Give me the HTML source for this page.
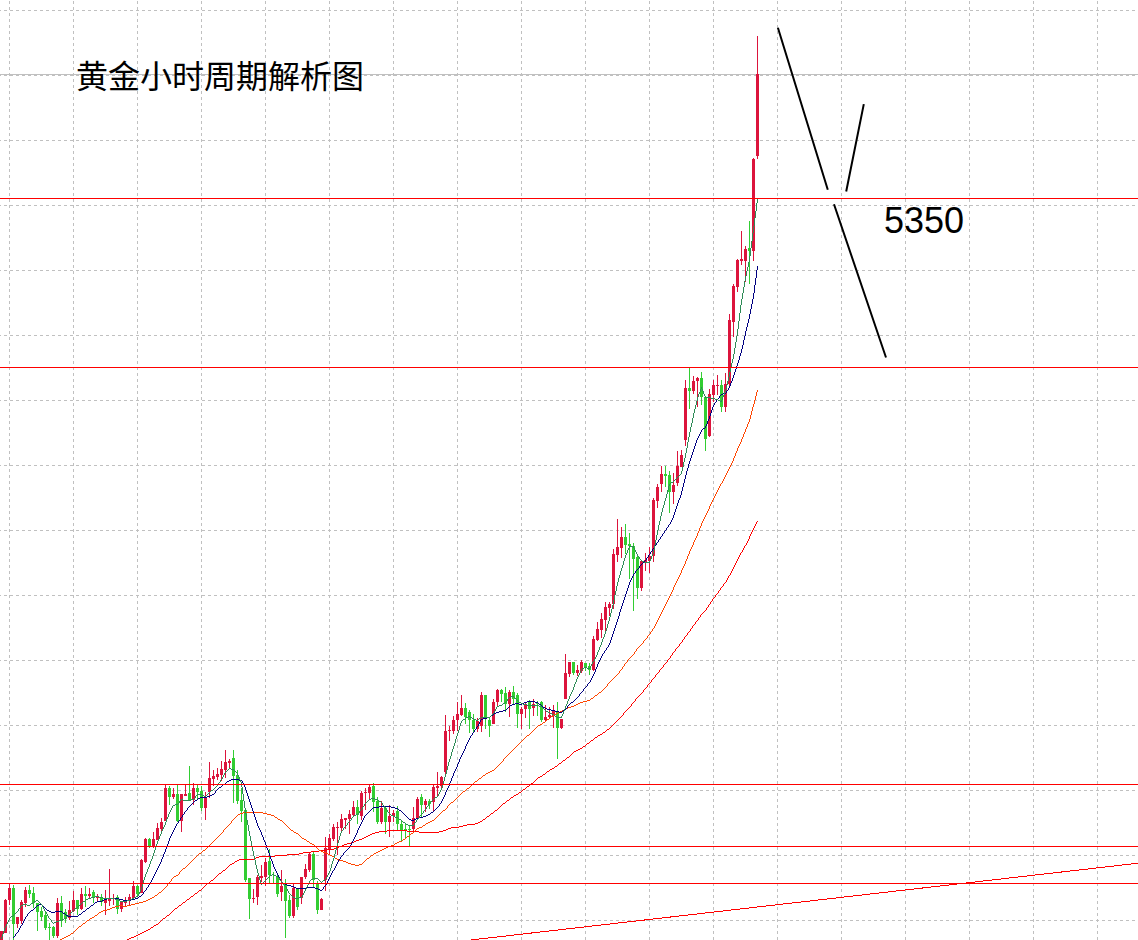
<!DOCTYPE html><html><head><meta charset="utf-8"><title>chart</title><style>html,body{margin:0;padding:0;background:#fff}svg{display:block}text{font-family:"Liberation Sans","Noto Sans CJK SC",sans-serif}</style></head><body>
<svg width="1138" height="940" viewBox="0 0 1138 940">
<rect width="1138" height="940" fill="#fff"/>
<g shape-rendering="crispEdges" stroke="#c0c0c0" stroke-width="1" stroke-dasharray="3 3" fill="none">
<path stroke-dashoffset="2" d="M0 10.5H1138M0 75.5H1138M0 140.5H1138M0 205.5H1138M0 270.5H1138M0 335.5H1138M0 400.5H1138M0 465.5H1138M0 530.5H1138M0 595.5H1138M0 660.5H1138M0 725.5H1138M0 790.5H1138M0 855.5H1138M0 920.5H1138"/>
<path stroke-dashoffset="5" d="M9.5 0V940M73.5 0V940M137.5 0V940M201.5 0V940M265.5 0V940M329.5 0V940M393.5 0V940M457.5 0V940M521.5 0V940M585.5 0V940M649.5 0V940M713.5 0V940M777.5 0V940M841.5 0V940M905.5 0V940M969.5 0V940M1033.5 0V940M1097.5 0V940"/>
</g>
<path shape-rendering="crispEdges" stroke="#c0c0c0" d="M0 74.5H1138"/>
<g shape-rendering="crispEdges">
<path fill="#DC143C" d="M0 931h3v12h-3zM4 900h3v33h-3zM5 899h1v1h-1zM8 888h3v12h-3zM9 884h1v4h-1zM9 900h1v5h-1zM16 917h3v7h-3zM17 924h1v4h-1zM20 902h3v19h-3zM21 900h1v2h-1zM21 921h1v3h-1zM24 890h3v13h-3zM25 887h1v3h-1zM25 903h1v4h-1zM56 903h3v33h-3zM57 898h1v5h-1zM57 936h1v2h-1zM68 910h3v8h-3zM69 901h1v9h-1zM69 918h1v2h-1zM72 900h3v11h-3zM73 891h1v9h-1zM73 911h1v1h-1zM80 894h3v15h-3zM81 888h1v6h-1zM81 909h1v1h-1zM88 894h3v2h-3zM89 888h1v6h-1zM89 896h1v2h-1zM96 896h3v2h-3zM97 894h1v2h-1zM97 898h1v3h-1zM104 899h3v4h-3zM105 890h1v9h-1zM105 903h1v12h-1zM108 899h3v2h-3zM109 869h1v30h-1zM109 901h1v5h-1zM112 898h3v1h-3zM113 894h1v4h-1zM113 899h1v6h-1zM120 902h3v7h-3zM121 901h1v1h-1zM121 909h1v3h-1zM124 900h3v3h-3zM125 897h1v3h-1zM125 903h1v3h-1zM128 897h3v4h-3zM129 894h1v3h-1zM129 901h1v5h-1zM132 886h3v12h-3zM133 881h1v5h-1zM133 898h1v1h-1zM152 839h3v7h-3zM153 832h1v7h-1zM153 846h1v2h-1zM156 828h3v12h-3zM157 823h1v5h-1zM160 822h3v7h-3zM161 818h1v4h-1zM161 829h1v4h-1zM164 788h3v33h-3zM165 785h1v3h-1zM172 794h3v3h-3zM173 788h1v6h-1zM173 797h1v2h-1zM180 794h3v27h-3zM181 821h1v11h-1zM184 794h3v2h-3zM185 785h1v9h-1zM192 788h3v12h-3zM193 783h1v5h-1zM193 800h1v5h-1zM204 797h3v11h-3zM205 792h1v5h-1zM205 808h1v12h-1zM208 778h3v14h-3zM209 762h1v16h-1zM209 792h1v6h-1zM212 776h3v3h-3zM213 770h1v6h-1zM213 779h1v7h-1zM216 774h3v3h-3zM217 768h1v6h-1zM217 777h1v3h-1zM220 769h3v6h-3zM221 761h1v8h-1zM221 775h1v6h-1zM224 762h3v8h-3zM225 750h1v12h-1zM225 770h1v8h-1zM228 761h3v2h-3zM229 759h1v2h-1zM229 763h1v6h-1zM140 860h3v33h-3zM141 859h1v1h-1zM144 839h3v23h-3zM145 838h1v1h-1zM145 862h1v1h-1zM252 898h3v1h-3zM253 889h1v9h-1zM253 899h1v4h-1zM256 877h3v20h-3zM257 875h1v2h-1zM257 897h1v8h-1zM260 876h3v2h-3zM261 865h1v11h-1zM261 878h1v4h-1zM264 862h3v15h-3zM265 858h1v4h-1zM265 877h1v9h-1zM304 869h3v8h-3zM305 864h1v5h-1zM305 877h1v2h-1zM308 854h3v16h-3zM309 852h1v2h-1zM309 870h1v2h-1zM324 848h3v32h-3zM325 837h1v11h-1zM325 880h1v11h-1zM328 838h3v11h-3zM329 834h1v4h-1zM329 849h1v5h-1zM332 827h3v12h-3zM333 824h1v3h-1zM333 839h1v2h-1zM336 827h3v1h-3zM337 822h1v5h-1zM337 828h1v27h-1zM340 819h3v9h-3zM341 814h1v5h-1zM341 828h1v3h-1zM344 818h3v2h-3zM345 820h1v9h-1zM348 814h3v5h-3zM349 810h1v4h-1zM349 819h1v15h-1zM352 807h3v8h-3zM353 801h1v6h-1zM353 815h1v1h-1zM360 793h3v23h-3zM361 791h1v2h-1zM361 816h1v4h-1zM364 792h3v1h-3zM365 788h1v4h-1zM365 793h1v17h-1zM368 787h3v6h-3zM369 784h1v3h-1zM369 793h1v6h-1zM380 808h3v14h-3zM381 801h1v7h-1zM381 822h1v2h-1zM388 816h3v6h-3zM389 805h1v11h-1zM389 822h1v15h-1zM392 813h3v3h-3zM393 810h1v3h-1zM393 816h1v6h-1zM280 886h3v6h-3zM281 870h1v16h-1zM281 892h1v9h-1zM292 888h3v28h-3zM293 884h1v4h-1zM293 916h1v2h-1zM300 877h3v21h-3zM301 898h1v6h-1zM320 899h3v11h-3zM321 898h1v1h-1zM440 777h3v9h-3zM441 776h1v1h-1zM441 786h1v3h-1zM444 731h3v41h-3zM445 715h1v16h-1zM445 772h1v3h-1zM448 730h3v1h-3zM449 726h1v4h-1zM449 731h1v10h-1zM452 720h3v11h-3zM453 716h1v4h-1zM453 731h1v3h-1zM456 714h3v6h-3zM457 702h1v12h-1zM457 720h1v11h-1zM460 708h3v7h-3zM461 695h1v13h-1zM461 715h1v1h-1zM476 721h3v8h-3zM477 718h1v3h-1zM477 729h1v3h-1zM480 695h3v31h-3zM481 692h1v3h-1zM481 726h1v6h-1zM492 702h3v22h-3zM493 699h1v3h-1zM496 690h3v12h-3zM497 689h1v1h-1zM497 702h1v4h-1zM508 692h3v12h-3zM509 690h1v2h-1zM509 704h1v13h-1zM520 709h3v5h-3zM521 707h1v2h-1zM521 714h1v15h-1zM524 704h3v5h-3zM525 702h1v2h-1zM525 709h1v9h-1zM532 704h3v4h-3zM533 699h1v5h-1zM533 708h1v8h-1zM412 818h3v11h-3zM413 807h1v11h-1zM413 829h1v4h-1zM416 799h3v19h-3zM417 797h1v2h-1zM424 801h3v4h-3zM425 799h1v2h-1zM425 805h1v7h-1zM432 787h3v15h-3zM433 785h1v2h-1zM433 802h1v10h-1zM436 786h3v2h-3zM437 772h1v14h-1zM437 788h1v8h-1zM580 662h3v9h-3zM581 660h1v2h-1zM581 671h1v2h-1zM592 639h3v31h-3zM593 636h1v3h-1zM593 670h1v1h-1zM596 629h3v11h-3zM597 622h1v7h-1zM597 640h1v1h-1zM600 619h3v11h-3zM601 613h1v6h-1zM601 630h1v8h-1zM604 607h3v13h-3zM605 602h1v5h-1zM605 620h1v12h-1zM608 604h3v4h-3zM609 602h1v2h-1zM609 608h1v8h-1zM544 717h3v3h-3zM545 705h1v12h-1zM545 720h1v1h-1zM548 715h3v2h-3zM549 707h1v8h-1zM549 717h1v1h-1zM552 711h3v5h-3zM553 705h1v6h-1zM553 716h1v12h-1zM560 719h3v9h-3zM561 728h1v1h-1zM564 673h3v26h-3zM565 654h1v19h-1zM568 662h3v12h-3zM569 674h1v3h-1zM576 670h3v3h-3zM577 665h1v5h-1zM577 673h1v3h-1zM616 547h3v8h-3zM617 519h1v28h-1zM617 555h1v7h-1zM620 537h3v11h-3zM621 527h1v10h-1zM621 548h1v10h-1zM652 500h3v56h-3zM653 498h1v2h-1zM653 556h1v6h-1zM656 487h3v14h-3zM657 484h1v3h-1zM657 501h1v7h-1zM660 474h3v10h-3zM661 466h1v8h-1zM661 484h1v8h-1zM672 485h3v7h-3zM673 473h1v12h-1zM673 492h1v12h-1zM612 554h3v50h-3zM613 549h1v5h-1zM613 604h1v5h-1zM640 561h3v27h-3zM641 560h1v1h-1zM641 588h1v3h-1zM644 560h3v3h-3zM645 553h1v7h-1zM645 563h1v8h-1zM648 556h3v5h-3zM649 547h1v9h-1zM649 561h1v12h-1zM676 466h3v17h-3zM677 451h1v15h-1zM677 483h1v3h-1zM680 455h3v12h-3zM681 450h1v5h-1zM684 388h3v52h-3zM685 380h1v8h-1zM685 440h1v6h-1zM692 381h3v10h-3zM693 376h1v5h-1zM693 391h1v3h-1zM696 378h3v3h-3zM697 377h1v1h-1zM697 381h1v26h-1zM708 394h3v42h-3zM709 389h1v5h-1zM709 436h1v1h-1zM712 385h3v10h-3zM713 380h1v5h-1zM713 395h1v7h-1zM716 385h3v1h-3zM717 375h1v10h-1zM717 386h1v9h-1zM724 384h3v23h-3zM725 373h1v11h-1zM725 407h1v5h-1zM736 260h3v27h-3zM737 259h1v1h-1zM737 287h1v5h-1zM740 259h3v2h-3zM741 231h1v28h-1zM741 261h1v4h-1zM744 249h3v12h-3zM745 246h1v3h-1zM745 261h1v21h-1zM728 320h3v64h-3zM729 314h1v6h-1zM729 384h1v2h-1zM732 286h3v36h-3zM733 284h1v2h-1zM733 322h1v15h-1zM752 159h3v92h-3zM753 158h1v1h-1zM753 251h1v10h-1zM756 74h3v82h-3zM757 36h1v38h-1zM757 156h1v3h-1z"/>
<path fill="#32CD32" d="M12 888h3v36h-3zM13 885h1v3h-1zM13 924h1v19h-1zM28 890h3v4h-3zM29 885h1v5h-1zM29 894h1v4h-1zM32 893h3v10h-3zM33 887h1v6h-1zM33 903h1v5h-1zM36 903h3v9h-3zM37 912h1v19h-1zM40 911h3v6h-3zM41 907h1v4h-1zM41 917h1v4h-1zM44 915h3v13h-3zM45 912h1v3h-1zM45 928h1v2h-1zM48 927h3v1h-3zM49 923h1v4h-1zM49 928h1v15h-1zM52 927h3v9h-3zM53 926h1v1h-1zM53 936h1v2h-1zM60 903h3v18h-3zM61 896h1v7h-1zM61 921h1v6h-1zM64 912h3v7h-3zM65 909h1v3h-1zM65 919h1v4h-1zM76 900h3v9h-3zM77 909h1v6h-1zM84 894h3v2h-3zM85 886h1v8h-1zM85 896h1v11h-1zM92 892h3v6h-3zM93 890h1v2h-1zM93 898h1v5h-1zM100 897h3v5h-3zM101 894h1v3h-1zM101 902h1v4h-1zM116 897h3v12h-3zM117 895h1v2h-1zM117 909h1v5h-1zM136 886h3v8h-3zM137 885h1v1h-1zM137 894h1v2h-1zM148 839h3v7h-3zM149 838h1v1h-1zM149 846h1v2h-1zM168 788h3v9h-3zM169 786h1v2h-1zM169 797h1v8h-1zM176 794h3v27h-3zM177 785h1v9h-1zM177 821h1v1h-1zM188 793h3v7h-3zM189 766h1v27h-1zM196 788h3v4h-3zM197 785h1v3h-1zM197 792h1v7h-1zM200 791h3v17h-3zM201 786h1v5h-1zM201 808h1v3h-1zM232 758h3v18h-3zM233 750h1v8h-1zM233 776h1v27h-1zM236 775h3v26h-3zM237 770h1v5h-1zM237 801h1v3h-1zM240 800h3v11h-3zM241 788h1v12h-1zM241 811h1v11h-1zM244 810h3v70h-3zM245 809h1v1h-1zM245 880h1v2h-1zM248 878h3v21h-3zM249 899h1v20h-1zM268 861h3v14h-3zM269 849h1v12h-1zM269 875h1v8h-1zM273 872h1v6h-1zM273 878h1v5h-1zM312 854h3v26h-3zM313 851h1v3h-1zM313 880h1v7h-1zM356 807h3v8h-3zM357 800h1v7h-1zM357 815h1v9h-1zM372 786h3v16h-3zM373 783h1v3h-1zM373 802h1v10h-1zM376 801h3v21h-3zM377 797h1v4h-1zM377 822h1v2h-1zM384 808h3v14h-3zM385 807h1v1h-1zM385 822h1v12h-1zM396 811h3v13h-3zM397 806h1v5h-1zM397 824h1v6h-1zM400 824h3v6h-3zM401 821h1v3h-1zM401 830h1v11h-1zM404 829h3v1h-3zM405 824h1v5h-1zM405 830h1v8h-1zM408 829h3v1h-3zM409 826h1v3h-1zM409 830h1v16h-1zM276 877h3v17h-3zM277 874h1v3h-1zM277 894h1v3h-1zM284 884h3v17h-3zM285 879h1v5h-1zM285 901h1v37h-1zM288 900h3v16h-3zM289 895h1v5h-1zM289 916h1v2h-1zM296 889h3v18h-3zM297 888h1v1h-1zM297 907h1v3h-1zM316 884h3v26h-3zM317 881h1v3h-1zM317 910h1v4h-1zM464 708h3v9h-3zM465 703h1v5h-1zM465 717h1v7h-1zM468 712h3v8h-3zM469 710h1v2h-1zM469 720h1v13h-1zM472 720h3v9h-3zM473 714h1v6h-1zM473 729h1v3h-1zM484 695h3v24h-3zM485 719h1v10h-1zM488 720h3v6h-3zM489 718h1v2h-1zM489 726h1v11h-1zM500 690h3v4h-3zM501 689h1v1h-1zM501 694h1v8h-1zM504 693h3v11h-3zM505 687h1v6h-1zM505 704h1v8h-1zM512 692h3v7h-3zM513 686h1v6h-1zM513 699h1v5h-1zM516 695h3v19h-3zM517 693h1v2h-1zM517 714h1v14h-1zM528 702h3v7h-3zM529 700h1v2h-1zM529 709h1v20h-1zM536 703h3v1h-3zM537 701h1v2h-1zM537 704h1v12h-1zM420 797h3v8h-3zM421 794h1v3h-1zM421 805h1v13h-1zM428 801h3v3h-3zM429 799h1v2h-1zM429 804h1v5h-1zM584 663h3v5h-3zM585 668h1v3h-1zM588 666h3v4h-3zM589 663h1v3h-1zM589 670h1v5h-1zM540 702h3v18h-3zM541 701h1v1h-1zM541 720h1v2h-1zM556 711h3v17h-3zM557 702h1v9h-1zM557 728h1v31h-1zM572 662h3v11h-3zM573 673h1v2h-1zM624 537h3v8h-3zM625 524h1v13h-1zM625 545h1v9h-1zM664 474h3v2h-3zM665 466h1v8h-1zM665 476h1v11h-1zM668 475h3v17h-3zM669 471h1v4h-1zM669 492h1v21h-1zM628 544h3v2h-3zM629 533h1v11h-1zM629 546h1v33h-1zM632 546h3v13h-3zM633 543h1v3h-1zM633 559h1v52h-1zM636 557h3v31h-3zM637 556h1v1h-1zM637 588h1v11h-1zM688 388h3v3h-3zM689 368h1v20h-1zM689 391h1v18h-1zM700 378h3v19h-3zM701 372h1v6h-1zM701 397h1v8h-1zM704 397h3v42h-3zM705 439h1v12h-1zM720 385h3v22h-3zM721 380h1v5h-1zM721 407h1v5h-1zM748 248h3v3h-3zM749 221h1v27h-1zM749 251h1v33h-1z"/>
</g>
<g shape-rendering="crispEdges">
<path fill="#FF0000" d="M757 521h1v1h-1zM756 522h1v2h-1zM755 524h1v2h-1zM754 526h1v2h-1zM753 528h1v2h-1zM752 530h1v2h-1zM751 532h1v2h-1zM750 534h1v2h-1zM749 536h1v3h-1zM748 539h1v2h-1zM747 541h1v2h-1zM746 543h1v2h-1zM745 545h1v1h-1zM744 546h1v2h-1zM743 548h1v2h-1zM742 550h1v2h-1zM741 552h1v1h-1zM740 553h1v2h-1zM739 555h1v2h-1zM738 557h1v2h-1zM737 559h1v2h-1zM736 561h1v2h-1zM735 563h1v2h-1zM734 565h1v2h-1zM733 567h1v2h-1zM732 569h1v2h-1zM731 571h1v2h-1zM730 573h1v2h-1zM729 575h1v1h-1zM728 576h1v2h-1zM727 578h1v2h-1zM726 580h1v2h-1zM725 582h1v1h-1zM724 583h1v1h-1zM723 584h1v2h-1zM722 586h1v1h-1zM721 587h1v1h-1zM720 588h1v2h-1zM719 590h1v1h-1zM718 591h1v2h-1zM717 593h1v1h-1zM716 594h1v1h-1zM715 595h1v2h-1zM714 597h1v1h-1zM713 598h1v1h-1zM712 599h1v2h-1zM711 601h1v1h-1zM710 602h1v2h-1zM709 604h1v1h-1zM708 605h1v2h-1zM707 607h1v1h-1zM706 608h1v2h-1zM705 610h1v1h-1zM704 611h1v1h-1zM703 612h1v1h-1zM702 613h1v1h-1zM701 614h1v1h-1zM700 615h1v2h-1zM699 617h1v1h-1zM698 618h1v2h-1zM697 620h1v1h-1zM696 621h1v1h-1zM695 622h1v2h-1zM694 624h1v1h-1zM693 625h1v1h-1zM692 626h1v2h-1zM691 628h1v1h-1zM690 629h1v2h-1zM689 631h1v1h-1zM688 632h1v1h-1zM687 633h1v2h-1zM686 635h1v1h-1zM685 636h1v1h-1zM684 637h1v2h-1zM683 639h1v1h-1zM682 640h1v2h-1zM681 642h1v1h-1zM680 643h1v1h-1zM679 644h1v2h-1zM678 646h1v1h-1zM677 647h1v1h-1zM676 648h1v1h-1zM675 649h1v2h-1zM674 651h1v1h-1zM673 652h1v1h-1zM672 653h1v2h-1zM671 655h1v1h-1zM670 656h1v2h-1zM669 658h1v1h-1zM668 659h1v1h-1zM667 660h1v2h-1zM666 662h1v1h-1zM665 663h1v1h-1zM664 664h1v1h-1zM663 665h1v2h-1zM662 667h1v1h-1zM661 668h1v1h-1zM660 669h1v1h-1zM659 670h1v2h-1zM658 672h1v1h-1zM657 673h1v1h-1zM656 674h1v1h-1zM655 675h1v2h-1zM654 677h1v1h-1zM653 678h1v1h-1zM652 679h1v1h-1zM651 680h1v2h-1zM650 682h1v1h-1zM649 683h1v1h-1zM648 684h1v1h-1zM647 685h1v2h-1zM646 687h1v1h-1zM645 688h1v1h-1zM644 689h1v1h-1zM643 690h1v2h-1zM642 692h1v1h-1zM641 693h1v1h-1zM640 694h1v1h-1zM639 695h1v1h-1zM638 696h1v1h-1zM637 697h1v1h-1zM636 698h1v1h-1zM635 699h1v2h-1zM634 701h1v1h-1zM633 702h1v1h-1zM632 703h1v1h-1zM631 704h1v2h-1zM630 706h1v1h-1zM629 707h1v1h-1zM628 708h1v1h-1zM627 709h1v1h-1zM626 710h1v1h-1zM625 711h1v1h-1zM624 712h1v1h-1zM623 713h1v2h-1zM622 715h1v1h-1zM621 716h1v1h-1zM620 717h1v1h-1zM619 718h1v1h-1zM618 719h1v1h-1zM617 720h1v1h-1zM616 721h1v1h-1zM615 722h1v1h-1zM614 723h1v1h-1zM613 724h1v1h-1zM612 725h1v1h-1zM611 726h1v1h-1zM610 727h1v1h-1zM609 728h1v1h-1zM607 729h2v1h-2zM606 730h1v1h-1zM605 731h1v1h-1zM603 732h2v1h-2zM602 733h1v1h-1zM600 734h2v1h-2zM598 735h2v1h-2zM597 736h1v1h-1zM595 737h2v1h-2zM594 738h1v1h-1zM593 739h1v1h-1zM591 740h2v1h-2zM590 741h1v1h-1zM589 742h1v1h-1zM587 743h2v1h-2zM586 744h1v1h-1zM585 745h1v1h-1zM583 746h2v1h-2zM582 747h1v1h-1zM580 748h2v1h-2zM578 749h2v1h-2zM576 750h2v1h-2zM574 751h2v1h-2zM573 752h1v1h-1zM572 753h1v1h-1zM571 754h1v1h-1zM570 755h1v1h-1zM569 756h1v1h-1zM567 757h2v1h-2zM566 758h1v1h-1zM565 759h1v1h-1zM563 760h2v1h-2zM562 761h1v1h-1zM561 762h1v1h-1zM559 763h2v1h-2zM558 764h1v1h-1zM557 765h1v1h-1zM555 766h2v1h-2zM554 767h1v1h-1zM552 768h2v1h-2zM550 769h2v1h-2zM549 770h1v1h-1zM547 771h2v1h-2zM546 772h1v1h-1zM545 773h1v1h-1zM543 774h2v1h-2zM542 775h1v1h-1zM540 776h2v1h-2zM538 777h2v1h-2zM537 778h1v1h-1zM536 779h1v1h-1zM535 780h1v1h-1zM534 781h1v1h-1zM533 782h1v1h-1zM531 783h2v1h-2zM530 784h1v1h-1zM529 785h1v1h-1zM527 786h2v1h-2zM526 787h1v1h-1zM525 788h1v1h-1zM523 789h2v1h-2zM522 790h1v1h-1zM521 791h1v1h-1zM519 792h2v1h-2zM518 793h1v1h-1zM516 794h2v1h-2zM514 795h2v1h-2zM513 796h1v1h-1zM511 797h2v1h-2zM510 798h1v1h-1zM509 799h1v1h-1zM507 800h2v1h-2zM506 801h1v1h-1zM505 802h1v1h-1zM503 803h2v1h-2zM502 804h1v1h-1zM501 805h1v1h-1zM500 806h1v1h-1zM499 807h1v1h-1zM498 808h1v1h-1zM497 809h1v1h-1zM495 810h2v1h-2zM494 811h1v1h-1zM493 812h1v1h-1zM491 813h2v1h-2zM490 814h1v1h-1zM489 815h1v1h-1zM487 816h2v1h-2zM486 817h1v1h-1zM485 818h1v1h-1zM483 819h2v1h-2zM482 820h1v1h-1zM480 821h2v1h-2zM478 822h2v1h-2zM475 823h3v1h-3zM467 824h8v1h-8zM463 825h4v1h-4zM459 826h4v1h-4zM451 827h8v1h-8zM448 828h3v1h-3zM446 829h2v1h-2zM387 830h20v1h-20zM443 830h3v1h-3zM379 831h8v1h-8zM407 831h12v1h-12zM439 831h4v1h-4zM375 832h4v1h-4zM419 832h20v1h-20zM372 833h3v1h-3zM370 834h2v1h-2zM368 835h2v1h-2zM366 836h2v1h-2zM364 837h2v1h-2zM362 838h2v1h-2zM359 839h3v1h-3zM356 840h3v1h-3zM354 841h2v1h-2zM351 842h3v1h-3zM347 843h4v1h-4zM344 844h3v1h-3zM342 845h2v1h-2zM339 846h3v1h-3zM336 847h3v1h-3zM334 848h2v1h-2zM327 849h7v1h-7zM319 850h8v1h-8zM311 851h8v1h-8zM303 852h8v1h-8zM299 853h4v1h-4zM287 854h12v1h-12zM275 855h12v1h-12zM259 856h16v1h-16zM256 857h3v1h-3zM254 858h2v1h-2zM239 859h15v1h-15zM237 860h2v1h-2zM235 861h2v1h-2zM234 862h1v1h-1zM232 863h2v1h-2zM230 864h2v1h-2zM229 865h1v1h-1zM228 866h1v1h-1zM227 867h1v1h-1zM226 868h1v1h-1zM225 869h1v1h-1zM223 870h2v1h-2zM222 871h1v1h-1zM221 872h1v1h-1zM219 873h2v1h-2zM218 874h1v1h-1zM217 875h1v1h-1zM216 876h1v1h-1zM215 877h1v1h-1zM214 878h1v1h-1zM213 879h1v1h-1zM211 880h2v1h-2zM210 881h1v1h-1zM209 882h1v1h-1zM207 883h2v1h-2zM206 884h1v1h-1zM205 885h1v1h-1zM204 886h1v1h-1zM203 887h1v1h-1zM202 888h1v1h-1zM201 889h1v1h-1zM199 890h2v1h-2zM198 891h1v1h-1zM197 892h1v1h-1zM195 893h2v1h-2zM194 894h1v1h-1zM193 895h1v1h-1zM191 896h2v1h-2zM190 897h1v1h-1zM189 898h1v1h-1zM187 899h2v1h-2zM186 900h1v1h-1zM185 901h1v1h-1zM183 902h2v1h-2zM182 903h1v1h-1zM181 904h1v1h-1zM179 905h2v1h-2zM178 906h1v1h-1zM177 907h1v1h-1zM175 908h2v1h-2zM174 909h1v1h-1zM173 910h1v1h-1zM172 911h1v1h-1zM171 912h1v1h-1zM170 913h1v1h-1zM169 914h1v1h-1zM167 915h2v1h-2zM166 916h1v1h-1zM165 917h1v1h-1zM163 918h2v1h-2zM162 919h1v1h-1zM161 920h1v1h-1zM160 921h1v1h-1zM159 922h1v1h-1zM158 923h1v1h-1zM156 924h2v1h-2zM154 925h2v1h-2zM153 926h1v1h-1zM151 927h2v1h-2zM150 928h1v1h-1zM148 929h2v1h-2zM146 930h2v1h-2zM144 931h2v1h-2zM142 932h2v1h-2zM140 933h2v1h-2zM138 934h2v1h-2zM136 935h2v1h-2zM134 936h2v1h-2zM131 937h3v1h-3zM129 938h2v1h-2zM127 939h2v1h-2z"/>
<path fill="#FF4500" d="M757 390h1v2h-1zM756 392h1v4h-1zM755 396h1v4h-1zM754 400h1v4h-1zM753 404h1v3h-1zM752 407h1v4h-1zM751 411h1v4h-1zM750 415h1v4h-1zM749 419h1v3h-1zM748 422h1v2h-1zM747 424h1v3h-1zM746 427h1v2h-1zM745 429h1v3h-1zM744 432h1v2h-1zM743 434h1v3h-1zM742 437h1v2h-1zM741 439h1v3h-1zM740 442h1v2h-1zM739 444h1v2h-1zM738 446h1v2h-1zM737 448h1v3h-1zM736 451h1v2h-1zM735 453h1v3h-1zM734 456h1v2h-1zM733 458h1v3h-1zM732 461h1v2h-1zM731 463h1v2h-1zM730 465h1v2h-1zM729 467h1v2h-1zM728 469h1v2h-1zM727 471h1v2h-1zM726 473h1v2h-1zM725 475h1v2h-1zM724 477h1v2h-1zM723 479h1v2h-1zM722 481h1v2h-1zM721 483h1v1h-1zM720 484h1v2h-1zM719 486h1v2h-1zM718 488h1v2h-1zM717 490h1v2h-1zM716 492h1v2h-1zM715 494h1v2h-1zM714 496h1v2h-1zM713 498h1v2h-1zM712 500h1v2h-1zM711 502h1v2h-1zM710 504h1v2h-1zM709 506h1v3h-1zM708 509h1v2h-1zM707 511h1v2h-1zM706 513h1v2h-1zM705 515h1v2h-1zM704 517h1v2h-1zM703 519h1v2h-1zM702 521h1v2h-1zM701 523h1v3h-1zM700 526h1v2h-1zM699 528h1v3h-1zM698 531h1v2h-1zM697 533h1v3h-1zM696 536h1v2h-1zM695 538h1v2h-1zM694 540h1v2h-1zM693 542h1v3h-1zM692 545h1v2h-1zM691 547h1v2h-1zM690 549h1v2h-1zM689 551h1v3h-1zM688 554h1v2h-1zM687 556h1v3h-1zM686 559h1v2h-1zM685 561h1v3h-1zM684 564h1v2h-1zM683 566h1v2h-1zM682 568h1v2h-1zM681 570h1v3h-1zM680 573h1v2h-1zM679 575h1v2h-1zM678 577h1v2h-1zM677 579h1v2h-1zM676 581h1v2h-1zM675 583h1v2h-1zM674 585h1v2h-1zM673 587h1v3h-1zM672 590h1v2h-1zM671 592h1v2h-1zM670 594h1v2h-1zM669 596h1v2h-1zM668 598h1v2h-1zM667 600h1v2h-1zM666 602h1v2h-1zM665 604h1v2h-1zM664 606h1v2h-1zM663 608h1v2h-1zM662 610h1v2h-1zM661 612h1v2h-1zM660 614h1v2h-1zM659 616h1v2h-1zM658 618h1v2h-1zM657 620h1v2h-1zM656 622h1v2h-1zM655 624h1v2h-1zM654 626h1v2h-1zM653 628h1v1h-1zM652 629h1v2h-1zM651 631h1v1h-1zM650 632h1v2h-1zM649 634h1v1h-1zM648 635h1v1h-1zM647 636h1v2h-1zM646 638h1v1h-1zM645 639h1v1h-1zM644 640h1v1h-1zM643 641h1v2h-1zM642 643h1v1h-1zM641 644h1v1h-1zM640 645h1v1h-1zM639 646h1v1h-1zM638 647h1v1h-1zM637 648h1v1h-1zM636 649h1v2h-1zM635 651h1v1h-1zM634 652h1v2h-1zM633 654h1v1h-1zM632 655h1v1h-1zM631 656h1v1h-1zM630 657h1v1h-1zM629 658h1v1h-1zM628 659h1v1h-1zM627 660h1v2h-1zM626 662h1v1h-1zM625 663h1v1h-1zM624 664h1v2h-1zM623 666h1v1h-1zM622 667h1v2h-1zM621 669h1v1h-1zM620 670h1v1h-1zM619 671h1v2h-1zM618 673h1v1h-1zM617 674h1v1h-1zM616 675h1v1h-1zM615 676h1v1h-1zM614 677h1v1h-1zM613 678h1v1h-1zM612 679h1v1h-1zM611 680h1v1h-1zM610 681h1v1h-1zM609 682h1v1h-1zM608 683h1v1h-1zM607 684h1v2h-1zM606 686h1v1h-1zM605 687h1v1h-1zM604 688h1v1h-1zM603 689h1v1h-1zM602 690h1v1h-1zM601 691h1v1h-1zM599 692h2v1h-2zM598 693h1v1h-1zM597 694h1v1h-1zM595 695h2v1h-2zM594 696h1v1h-1zM593 697h1v1h-1zM591 698h2v1h-2zM590 699h1v1h-1zM587 700h3v1h-3zM583 701h4v1h-4zM580 702h3v1h-3zM578 703h2v1h-2zM576 704h2v1h-2zM574 705h2v1h-2zM571 706h3v1h-3zM568 707h3v1h-3zM566 708h2v1h-2zM564 709h2v1h-2zM562 710h2v1h-2zM560 711h2v1h-2zM558 712h2v1h-2zM556 713h2v1h-2zM554 714h2v1h-2zM553 715h1v1h-1zM551 716h2v1h-2zM550 717h1v1h-1zM549 718h1v1h-1zM547 719h2v1h-2zM546 720h1v1h-1zM545 721h1v1h-1zM543 722h2v1h-2zM542 723h1v1h-1zM540 724h2v1h-2zM538 725h2v1h-2zM537 726h1v1h-1zM536 727h1v1h-1zM535 728h1v1h-1zM534 729h1v1h-1zM533 730h1v1h-1zM532 731h1v1h-1zM531 732h1v1h-1zM530 733h1v1h-1zM529 734h1v1h-1zM527 735h2v1h-2zM526 736h1v1h-1zM525 737h1v1h-1zM524 738h1v1h-1zM523 739h1v1h-1zM522 740h1v1h-1zM521 741h1v1h-1zM520 742h1v1h-1zM519 743h1v1h-1zM518 744h1v1h-1zM517 745h1v1h-1zM516 746h1v1h-1zM515 747h1v1h-1zM514 748h1v1h-1zM513 749h1v1h-1zM512 750h1v1h-1zM511 751h1v1h-1zM510 752h1v1h-1zM509 753h1v1h-1zM508 754h1v1h-1zM507 755h1v1h-1zM506 756h1v1h-1zM505 757h1v1h-1zM504 758h1v1h-1zM503 759h1v2h-1zM502 761h1v1h-1zM501 762h1v1h-1zM500 763h1v1h-1zM499 764h1v1h-1zM498 765h1v1h-1zM497 766h1v1h-1zM496 767h1v1h-1zM495 768h1v1h-1zM494 769h1v1h-1zM492 770h2v1h-2zM490 771h2v1h-2zM488 772h2v1h-2zM486 773h2v1h-2zM485 774h1v1h-1zM483 775h2v1h-2zM482 776h1v1h-1zM481 777h1v1h-1zM479 778h2v1h-2zM478 779h1v1h-1zM477 780h1v1h-1zM475 781h2v1h-2zM474 782h1v1h-1zM473 783h1v1h-1zM472 784h1v1h-1zM471 785h1v1h-1zM470 786h1v1h-1zM469 787h1v1h-1zM467 788h2v1h-2zM466 789h1v1h-1zM465 790h1v1h-1zM463 791h2v1h-2zM462 792h1v1h-1zM461 793h1v1h-1zM460 794h1v1h-1zM459 795h1v1h-1zM458 796h1v1h-1zM457 797h1v1h-1zM456 798h1v1h-1zM455 799h1v1h-1zM454 800h1v1h-1zM453 801h1v1h-1zM451 802h2v1h-2zM450 803h1v1h-1zM449 804h1v1h-1zM448 805h1v1h-1zM447 806h1v2h-1zM446 808h1v1h-1zM445 809h1v1h-1zM443 810h2v1h-2zM442 811h1v1h-1zM243 812h20v1h-20zM441 812h1v1h-1zM240 813h3v1h-3zM263 813h4v1h-4zM440 813h1v1h-1zM238 814h2v1h-2zM267 814h4v1h-4zM439 814h1v1h-1zM237 815h1v1h-1zM271 815h3v1h-3zM438 815h1v1h-1zM236 816h1v1h-1zM274 816h1v1h-1zM437 816h1v1h-1zM235 817h1v1h-1zM275 817h2v1h-2zM436 817h1v1h-1zM234 818h1v1h-1zM277 818h1v1h-1zM435 818h1v1h-1zM233 819h1v1h-1zM278 819h2v1h-2zM434 819h1v1h-1zM232 820h1v1h-1zM280 820h2v1h-2zM432 820h2v1h-2zM282 821h1v1h-1zM430 821h2v1h-2zM231 821h1v2h-1zM283 822h1v1h-1zM428 822h2v1h-2zM230 823h1v1h-1zM284 823h1v1h-1zM426 823h2v1h-2zM229 824h1v1h-1zM285 824h1v1h-1zM425 824h1v1h-1zM228 825h1v1h-1zM286 825h1v1h-1zM423 825h2v1h-2zM227 826h1v1h-1zM287 826h1v1h-1zM422 826h1v1h-1zM226 827h1v1h-1zM288 827h1v1h-1zM419 827h3v1h-3zM225 828h1v1h-1zM289 828h1v1h-1zM417 828h2v1h-2zM224 829h1v1h-1zM290 829h1v1h-1zM416 829h1v1h-1zM291 830h2v1h-2zM415 830h1v1h-1zM223 830h1v2h-1zM293 831h1v1h-1zM414 831h1v1h-1zM222 832h1v1h-1zM294 832h2v1h-2zM413 832h1v1h-1zM221 833h1v1h-1zM296 833h2v1h-2zM411 833h2v1h-2zM220 834h1v1h-1zM298 834h1v1h-1zM410 834h1v1h-1zM219 835h1v1h-1zM299 835h1v1h-1zM409 835h1v1h-1zM218 836h1v1h-1zM300 836h1v1h-1zM407 836h2v1h-2zM217 837h1v1h-1zM301 837h1v1h-1zM406 837h1v1h-1zM216 838h1v1h-1zM302 838h2v1h-2zM405 838h1v1h-1zM215 839h1v1h-1zM304 839h2v1h-2zM403 839h2v1h-2zM214 840h1v1h-1zM306 840h1v1h-1zM402 840h1v1h-1zM213 841h1v1h-1zM307 841h2v1h-2zM399 841h3v1h-3zM212 842h1v1h-1zM309 842h1v1h-1zM397 842h2v1h-2zM211 843h1v1h-1zM310 843h2v1h-2zM395 843h2v1h-2zM210 844h1v1h-1zM312 844h2v1h-2zM394 844h1v1h-1zM209 845h1v1h-1zM314 845h1v1h-1zM391 845h3v1h-3zM208 846h1v1h-1zM315 846h1v1h-1zM388 846h3v1h-3zM207 847h1v1h-1zM316 847h1v1h-1zM386 847h2v1h-2zM206 848h1v1h-1zM317 848h1v1h-1zM384 848h2v1h-2zM205 849h1v1h-1zM318 849h1v1h-1zM382 849h2v1h-2zM203 850h2v1h-2zM319 850h2v1h-2zM380 850h2v1h-2zM202 851h1v1h-1zM321 851h2v1h-2zM378 851h2v1h-2zM201 852h1v1h-1zM323 852h3v1h-3zM376 852h2v1h-2zM199 853h2v1h-2zM326 853h2v1h-2zM374 853h2v1h-2zM198 854h1v1h-1zM328 854h2v1h-2zM373 854h1v1h-1zM197 855h1v1h-1zM330 855h2v1h-2zM371 855h2v1h-2zM196 856h1v1h-1zM332 856h2v1h-2zM370 856h1v1h-1zM195 857h1v1h-1zM334 857h1v1h-1zM369 857h1v1h-1zM194 858h1v1h-1zM335 858h2v1h-2zM367 858h2v1h-2zM193 859h1v1h-1zM337 859h2v1h-2zM366 859h1v1h-1zM192 860h1v1h-1zM339 860h4v1h-4zM365 860h1v1h-1zM191 861h1v1h-1zM343 861h3v1h-3zM364 861h1v1h-1zM190 862h1v1h-1zM346 862h2v1h-2zM363 862h1v1h-1zM189 863h1v1h-1zM348 863h3v1h-3zM362 863h1v1h-1zM188 864h1v1h-1zM351 864h4v1h-4zM359 864h3v1h-3zM187 865h1v1h-1zM355 865h4v1h-4zM186 866h1v1h-1zM185 867h1v1h-1zM183 868h2v1h-2zM182 869h1v1h-1zM181 870h1v1h-1zM180 871h1v1h-1zM179 872h1v2h-1zM178 874h1v1h-1zM176 875h2v1h-2zM174 876h2v1h-2zM173 877h1v1h-1zM172 878h1v1h-1zM171 879h1v2h-1zM170 881h1v1h-1zM169 882h1v1h-1zM168 883h1v1h-1zM167 884h1v2h-1zM166 886h1v1h-1zM165 887h1v1h-1zM164 888h1v1h-1zM163 889h1v1h-1zM162 890h1v1h-1zM161 891h1v1h-1zM159 892h2v1h-2zM158 893h1v1h-1zM157 894h1v1h-1zM155 895h2v1h-2zM154 896h1v1h-1zM152 897h2v1h-2zM150 898h2v1h-2zM148 899h2v1h-2zM146 900h2v1h-2zM143 901h3v1h-3zM139 902h4v1h-4zM135 903h4v1h-4zM131 904h4v1h-4zM119 905h4v1h-4zM127 905h4v1h-4zM115 906h4v1h-4zM123 906h4v1h-4zM112 907h3v1h-3zM110 908h2v1h-2zM107 909h3v1h-3zM103 910h4v1h-4zM101 911h2v1h-2zM99 912h2v1h-2zM98 913h1v1h-1zM97 914h1v1h-1zM95 915h2v1h-2zM94 916h1v1h-1zM92 917h2v1h-2zM90 918h2v1h-2zM89 919h1v1h-1zM87 920h2v1h-2zM86 921h1v1h-1zM85 922h1v1h-1zM83 923h2v1h-2zM82 924h1v1h-1zM81 925h1v1h-1zM79 926h2v1h-2zM78 927h1v1h-1zM77 928h1v1h-1zM76 929h1v1h-1zM75 930h1v1h-1zM74 931h1v1h-1zM73 932h1v1h-1zM71 933h2v1h-2zM70 934h1v1h-1zM68 935h2v1h-2zM66 936h2v1h-2zM64 937h2v1h-2zM62 938h2v1h-2zM60 939h2v1h-2z"/>
<path fill="#000080" d="M757 266h1v4h-1zM756 270h1v8h-1zM755 278h1v7h-1zM754 285h1v8h-1zM753 293h1v6h-1zM752 299h1v5h-1zM751 304h1v5h-1zM750 309h1v5h-1zM749 314h1v5h-1zM748 319h1v4h-1zM747 323h1v4h-1zM746 327h1v4h-1zM745 331h1v5h-1zM744 336h1v4h-1zM743 340h1v5h-1zM742 345h1v4h-1zM741 349h1v4h-1zM740 353h1v3h-1zM739 356h1v4h-1zM738 360h1v3h-1zM737 363h1v3h-1zM736 366h1v3h-1zM735 369h1v3h-1zM734 372h1v3h-1zM733 375h1v3h-1zM732 378h1v3h-1zM731 381h1v2h-1zM730 383h1v3h-1zM729 386h1v2h-1zM728 388h1v2h-1zM727 390h1v1h-1zM726 391h1v2h-1zM723 393h3v1h-3zM721 394h2v1h-2zM720 395h1v1h-1zM719 396h1v2h-1zM718 398h1v1h-1zM717 399h1v1h-1zM716 400h1v2h-1zM715 402h1v1h-1zM714 403h1v2h-1zM713 405h1v2h-1zM712 407h1v3h-1zM711 410h1v3h-1zM710 413h1v3h-1zM709 416h1v3h-1zM708 419h1v2h-1zM707 421h1v3h-1zM706 424h1v2h-1zM705 426h1v2h-1zM703 428h2v1h-2zM702 429h1v1h-1zM701 430h1v2h-1zM700 432h1v2h-1zM699 434h1v2h-1zM698 436h1v2h-1zM697 438h1v2h-1zM696 440h1v3h-1zM695 443h1v3h-1zM694 446h1v3h-1zM693 449h1v3h-1zM692 452h1v3h-1zM691 455h1v3h-1zM690 458h1v3h-1zM689 461h1v3h-1zM688 464h1v4h-1zM687 468h1v3h-1zM686 471h1v4h-1zM685 475h1v4h-1zM684 479h1v4h-1zM683 483h1v4h-1zM682 487h1v4h-1zM681 491h1v4h-1zM680 495h1v3h-1zM679 498h1v2h-1zM678 500h1v3h-1zM677 503h1v3h-1zM676 506h1v3h-1zM675 509h1v3h-1zM674 512h1v3h-1zM673 515h1v3h-1zM672 518h1v2h-1zM671 520h1v2h-1zM670 522h1v2h-1zM669 524h1v1h-1zM668 525h1v2h-1zM667 527h1v1h-1zM666 528h1v2h-1zM665 530h1v1h-1zM664 531h1v2h-1zM663 533h1v1h-1zM662 534h1v2h-1zM661 536h1v1h-1zM660 537h1v2h-1zM659 539h1v1h-1zM658 540h1v2h-1zM657 542h1v1h-1zM656 543h1v2h-1zM655 545h1v1h-1zM654 546h1v2h-1zM653 548h1v1h-1zM652 549h1v2h-1zM651 551h1v1h-1zM650 552h1v2h-1zM649 554h1v1h-1zM648 555h1v2h-1zM647 557h1v1h-1zM646 558h1v2h-1zM645 560h1v1h-1zM644 561h1v1h-1zM643 562h1v1h-1zM642 563h1v1h-1zM641 564h1v1h-1zM640 565h1v1h-1zM639 566h1v2h-1zM638 568h1v1h-1zM637 569h1v1h-1zM636 570h1v1h-1zM635 571h1v2h-1zM634 573h1v1h-1zM633 574h1v2h-1zM632 576h1v2h-1zM631 578h1v2h-1zM630 580h1v2h-1zM629 582h1v3h-1zM628 585h1v3h-1zM627 588h1v3h-1zM626 591h1v3h-1zM625 594h1v3h-1zM624 597h1v3h-1zM623 600h1v3h-1zM622 603h1v3h-1zM621 606h1v3h-1zM620 609h1v3h-1zM619 612h1v4h-1zM618 616h1v3h-1zM617 619h1v3h-1zM616 622h1v3h-1zM615 625h1v3h-1zM614 628h1v3h-1zM613 631h1v3h-1zM612 634h1v3h-1zM611 637h1v3h-1zM610 640h1v3h-1zM609 643h1v2h-1zM608 645h1v2h-1zM607 647h1v1h-1zM606 648h1v2h-1zM605 650h1v1h-1zM604 651h1v2h-1zM603 653h1v1h-1zM602 654h1v2h-1zM601 656h1v2h-1zM600 658h1v2h-1zM599 660h1v2h-1zM598 662h1v2h-1zM597 664h1v3h-1zM596 667h1v2h-1zM595 669h1v3h-1zM594 672h1v2h-1zM593 674h1v2h-1zM592 676h1v2h-1zM591 678h1v2h-1zM590 680h1v2h-1zM589 682h1v1h-1zM588 683h1v1h-1zM587 684h1v2h-1zM586 686h1v1h-1zM585 687h1v1h-1zM584 688h1v1h-1zM583 689h1v2h-1zM582 691h1v1h-1zM581 692h1v1h-1zM580 693h1v1h-1zM579 694h1v2h-1zM578 696h1v1h-1zM577 697h1v1h-1zM576 698h1v1h-1zM575 699h1v1h-1zM574 700h1v1h-1zM527 701h8v1h-8zM573 701h1v1h-1zM524 702h3v1h-3zM535 702h3v1h-3zM571 702h2v1h-2zM515 703h4v1h-4zM522 703h2v1h-2zM538 703h1v1h-1zM570 703h1v1h-1zM512 704h3v1h-3zM519 704h3v1h-3zM539 704h2v1h-2zM569 704h1v1h-1zM510 705h2v1h-2zM541 705h1v1h-1zM568 705h1v1h-1zM509 706h1v1h-1zM542 706h1v1h-1zM567 706h1v2h-1zM508 707h1v1h-1zM543 707h2v1h-2zM507 708h1v1h-1zM545 708h2v1h-2zM566 708h1v1h-1zM506 709h1v1h-1zM547 709h4v1h-4zM565 709h1v1h-1zM503 710h3v1h-3zM551 710h4v1h-4zM563 710h2v1h-2zM499 711h4v1h-4zM555 711h4v1h-4zM562 711h1v1h-1zM496 712h3v1h-3zM559 712h3v1h-3zM494 713h2v1h-2zM493 714h1v1h-1zM491 715h2v1h-2zM490 716h1v1h-1zM487 717h3v1h-3zM483 718h4v1h-4zM481 719h2v1h-2zM480 720h1v2h-1zM479 722h1v2h-1zM478 724h1v2h-1zM477 726h1v1h-1zM476 727h1v2h-1zM475 729h1v1h-1zM474 730h1v2h-1zM473 732h1v1h-1zM472 733h1v2h-1zM471 735h1v1h-1zM470 736h1v2h-1zM469 738h1v2h-1zM468 740h1v2h-1zM467 742h1v2h-1zM466 744h1v2h-1zM465 746h1v3h-1zM464 749h1v2h-1zM463 751h1v2h-1zM462 753h1v2h-1zM461 755h1v2h-1zM460 757h1v2h-1zM459 759h1v3h-1zM458 762h1v2h-1zM457 764h1v3h-1zM456 767h1v2h-1zM455 769h1v2h-1zM454 771h1v2h-1zM453 773h1v3h-1zM452 776h1v2h-1zM451 778h1v3h-1zM231 779h8v1h-8zM229 780h2v1h-2zM239 780h3v1h-3zM227 781h2v1h-2zM242 781h1v2h-1zM450 781h1v2h-1zM226 782h1v1h-1zM225 783h1v1h-1zM243 783h1v2h-1zM449 783h1v3h-1zM223 784h2v1h-2zM222 785h1v1h-1zM244 785h1v2h-1zM221 786h1v1h-1zM448 786h1v2h-1zM219 787h2v1h-2zM245 787h1v3h-1zM218 788h1v1h-1zM447 788h1v2h-1zM217 789h1v1h-1zM216 790h1v1h-1zM446 790h1v2h-1zM246 790h1v3h-1zM215 791h1v2h-1zM445 792h1v3h-1zM214 793h1v1h-1zM247 793h1v3h-1zM212 794h2v1h-2zM210 795h2v1h-2zM444 795h1v2h-1zM207 796h3v1h-3zM248 796h1v3h-1zM200 797h7v1h-7zM443 797h1v2h-1zM198 798h2v1h-2zM197 799h1v1h-1zM442 799h1v2h-1zM249 799h1v3h-1zM195 800h2v1h-2zM194 801h1v1h-1zM441 801h1v2h-1zM193 802h1v1h-1zM250 802h1v3h-1zM192 803h1v1h-1zM440 803h1v1h-1zM191 804h1v1h-1zM439 804h1v2h-1zM190 805h1v1h-1zM251 805h1v3h-1zM189 806h1v1h-1zM379 806h12v1h-12zM438 806h1v1h-1zM188 807h1v1h-1zM373 807h6v1h-6zM391 807h4v1h-4zM437 807h1v1h-1zM372 808h1v1h-1zM395 808h3v1h-3zM436 808h1v1h-1zM187 808h1v2h-1zM252 808h1v3h-1zM371 809h1v1h-1zM398 809h1v1h-1zM435 809h1v1h-1zM186 810h1v1h-1zM370 810h1v1h-1zM399 810h2v1h-2zM434 810h1v1h-1zM185 811h1v1h-1zM369 811h1v1h-1zM401 811h1v1h-1zM433 811h1v1h-1zM253 811h1v3h-1zM368 812h1v1h-1zM402 812h1v1h-1zM431 812h2v1h-2zM184 812h1v2h-1zM367 813h1v1h-1zM403 813h1v1h-1zM430 813h1v1h-1zM183 814h1v1h-1zM366 814h1v1h-1zM404 814h1v1h-1zM428 814h2v1h-2zM254 814h1v3h-1zM365 815h1v1h-1zM405 815h1v1h-1zM426 815h2v1h-2zM182 815h1v2h-1zM406 816h1v1h-1zM423 816h3v1h-3zM364 816h1v2h-1zM181 817h1v1h-1zM407 817h1v1h-1zM419 817h4v1h-4zM255 817h1v3h-1zM408 818h1v1h-1zM416 818h3v1h-3zM180 818h1v2h-1zM363 818h1v2h-1zM409 819h2v1h-2zM414 819h2v1h-2zM179 820h1v1h-1zM411 820h3v1h-3zM362 820h1v2h-1zM256 820h1v3h-1zM178 821h1v2h-1zM361 822h1v2h-1zM177 823h1v1h-1zM257 823h1v3h-1zM176 824h1v2h-1zM360 824h1v2h-1zM175 826h1v2h-1zM258 826h1v2h-1zM359 826h1v2h-1zM174 828h1v2h-1zM259 828h1v2h-1zM358 828h1v2h-1zM173 830h1v2h-1zM260 830h1v2h-1zM357 830h1v3h-1zM172 832h1v2h-1zM261 832h1v3h-1zM356 833h1v2h-1zM171 834h1v2h-1zM262 835h1v2h-1zM355 835h1v2h-1zM170 836h1v2h-1zM354 837h1v2h-1zM263 837h1v3h-1zM169 838h1v3h-1zM353 839h1v2h-1zM264 840h1v2h-1zM352 841h1v2h-1zM168 841h1v3h-1zM265 842h1v3h-1zM351 843h1v2h-1zM167 844h1v2h-1zM350 845h1v2h-1zM266 845h1v3h-1zM166 846h1v3h-1zM349 847h1v1h-1zM348 848h1v1h-1zM267 848h1v2h-1zM347 849h1v1h-1zM165 849h1v3h-1zM346 850h1v1h-1zM268 850h1v3h-1zM345 851h1v1h-1zM344 852h1v1h-1zM164 852h1v2h-1zM343 853h1v2h-1zM269 853h1v3h-1zM163 854h1v3h-1zM342 855h1v1h-1zM341 856h1v1h-1zM270 856h1v3h-1zM162 857h1v2h-1zM340 857h1v2h-1zM339 859h1v1h-1zM271 859h1v2h-1zM161 859h1v3h-1zM338 860h1v2h-1zM272 861h1v3h-1zM160 862h1v2h-1zM337 862h1v2h-1zM159 864h1v2h-1zM336 864h1v2h-1zM273 864h1v3h-1zM158 866h1v2h-1zM335 866h1v2h-1zM274 867h1v2h-1zM157 868h1v2h-1zM334 868h1v2h-1zM275 869h1v2h-1zM333 870h1v1h-1zM156 870h1v2h-1zM276 871h1v2h-1zM332 871h1v2h-1zM155 872h1v2h-1zM277 873h1v2h-1zM331 873h1v2h-1zM154 874h1v2h-1zM278 875h1v2h-1zM330 875h1v2h-1zM153 876h1v2h-1zM279 877h1v2h-1zM329 877h1v2h-1zM152 878h1v2h-1zM280 879h1v2h-1zM328 879h1v2h-1zM151 880h1v2h-1zM281 881h1v1h-1zM327 881h1v2h-1zM282 882h1v1h-1zM150 882h1v2h-1zM283 883h2v1h-2zM326 883h1v2h-1zM149 884h1v1h-1zM285 884h2v1h-2zM287 885h4v1h-4zM325 885h1v1h-1zM148 885h1v2h-1zM291 886h3v1h-3zM324 886h1v1h-1zM147 887h1v1h-1zM294 887h2v1h-2zM307 887h8v1h-8zM323 887h1v2h-1zM296 888h11v1h-11zM315 888h3v1h-3zM146 888h1v2h-1zM318 889h2v1h-2zM322 889h1v1h-1zM145 890h1v1h-1zM320 890h2v1h-2zM144 891h1v1h-1zM143 892h1v2h-1zM142 894h1v1h-1zM141 895h1v1h-1zM139 896h2v1h-2zM138 897h1v1h-1zM107 898h12v1h-12zM135 898h3v1h-3zM104 899h3v1h-3zM119 899h4v1h-4zM131 899h4v1h-4zM102 900h2v1h-2zM123 900h8v1h-8zM97 901h5v1h-5zM95 902h2v1h-2zM94 903h1v1h-1zM39 904h3v1h-3zM93 904h1v1h-1zM37 905h2v1h-2zM42 905h1v1h-1zM91 905h2v1h-2zM36 906h1v1h-1zM43 906h1v1h-1zM90 906h1v1h-1zM35 907h1v1h-1zM44 907h1v1h-1zM89 907h1v1h-1zM34 908h1v1h-1zM45 908h1v1h-1zM87 908h2v1h-2zM33 909h1v1h-1zM46 909h1v1h-1zM86 909h1v1h-1zM31 910h2v1h-2zM47 910h2v1h-2zM85 910h1v1h-1zM30 911h1v1h-1zM49 911h2v1h-2zM55 911h7v1h-7zM83 911h2v1h-2zM29 912h1v1h-1zM51 912h4v1h-4zM62 912h1v1h-1zM82 912h1v1h-1zM28 913h1v1h-1zM63 913h2v1h-2zM81 913h1v1h-1zM65 914h1v1h-1zM79 914h2v1h-2zM27 914h1v2h-1zM66 915h2v1h-2zM78 915h1v1h-1zM26 916h1v1h-1zM68 916h10v1h-10zM25 917h1v2h-1zM24 919h1v2h-1zM23 921h1v2h-1zM22 923h1v2h-1zM21 925h1v1h-1zM20 926h1v2h-1zM19 928h1v2h-1zM18 930h1v2h-1zM17 932h1v1h-1zM16 933h1v1h-1zM15 934h1v2h-1zM14 936h1v1h-1zM13 937h1v1h-1z"/>
<path fill="#2E8B57" d="M757 199h1v4h-1zM756 203h1v8h-1zM755 211h1v7h-1zM754 218h1v8h-1zM753 226h1v7h-1zM752 233h1v8h-1zM751 241h1v7h-1zM750 248h1v8h-1zM749 256h1v6h-1zM748 262h1v5h-1zM747 267h1v4h-1zM746 271h1v5h-1zM745 276h1v5h-1zM744 281h1v6h-1zM743 287h1v6h-1zM742 293h1v6h-1zM741 299h1v6h-1zM740 305h1v8h-1zM739 313h1v8h-1zM738 321h1v8h-1zM737 329h1v7h-1zM736 336h1v6h-1zM735 342h1v6h-1zM734 348h1v6h-1zM733 354h1v5h-1zM732 359h1v4h-1zM731 363h1v5h-1zM730 368h1v4h-1zM729 372h1v5h-1zM728 377h1v4h-1zM727 381h1v4h-1zM726 385h1v4h-1zM701 387h1v2h-1zM702 389h1v2h-1zM700 389h1v3h-1zM725 389h1v3h-1zM703 391h1v3h-1zM699 392h1v2h-1zM724 392h1v3h-1zM704 394h1v2h-1zM698 394h1v3h-1zM723 395h1v2h-1zM705 396h1v2h-1zM706 397h5v1h-5zM722 397h1v3h-1zM697 397h1v4h-1zM711 398h4v1h-4zM715 399h3v1h-3zM718 400h2v1h-2zM721 400h1v2h-1zM720 401h1v1h-1zM696 401h1v4h-1zM695 405h1v4h-1zM694 409h1v4h-1zM693 413h1v5h-1zM692 418h1v5h-1zM691 423h1v4h-1zM690 427h1v5h-1zM689 432h1v5h-1zM688 437h1v5h-1zM687 442h1v6h-1zM686 448h1v5h-1zM685 453h1v5h-1zM684 458h1v4h-1zM683 462h1v5h-1zM682 467h1v4h-1zM681 471h1v3h-1zM680 474h1v1h-1zM679 475h1v1h-1zM678 476h1v1h-1zM677 477h1v1h-1zM676 478h1v1h-1zM675 479h1v1h-1zM674 480h1v1h-1zM673 481h1v1h-1zM671 482h2v1h-2zM670 483h1v1h-1zM669 484h1v2h-1zM668 486h1v4h-1zM667 490h1v4h-1zM666 494h1v4h-1zM665 498h1v3h-1zM664 501h1v4h-1zM663 505h1v3h-1zM662 508h1v4h-1zM661 512h1v4h-1zM660 516h1v5h-1zM659 521h1v4h-1zM658 525h1v5h-1zM657 530h1v5h-1zM656 535h1v5h-1zM655 540h1v5h-1zM654 545h1v5h-1zM630 546h3v1h-3zM629 546h1v2h-1zM633 546h1v2h-1zM628 548h1v2h-1zM634 548h1v2h-1zM635 550h1v2h-1zM627 550h1v3h-1zM653 550h1v4h-1zM636 552h1v2h-1zM626 553h1v2h-1zM637 554h1v2h-1zM652 554h1v2h-1zM625 555h1v3h-1zM638 556h1v1h-1zM651 556h1v3h-1zM639 557h1v2h-1zM624 558h1v3h-1zM640 559h1v1h-1zM650 559h1v2h-1zM641 560h1v1h-1zM642 561h2v1h-2zM649 561h1v2h-1zM623 561h1v4h-1zM644 562h5v1h-5zM622 565h1v3h-1zM621 568h1v3h-1zM620 571h1v4h-1zM619 575h1v3h-1zM618 578h1v4h-1zM617 582h1v4h-1zM616 586h1v5h-1zM615 591h1v4h-1zM614 595h1v5h-1zM613 600h1v5h-1zM612 605h1v4h-1zM611 609h1v4h-1zM610 613h1v4h-1zM609 617h1v4h-1zM608 621h1v3h-1zM607 624h1v4h-1zM606 628h1v3h-1zM605 631h1v3h-1zM604 634h1v3h-1zM603 637h1v2h-1zM602 639h1v3h-1zM601 642h1v3h-1zM600 645h1v2h-1zM599 647h1v3h-1zM598 650h1v2h-1zM597 652h1v3h-1zM596 655h1v2h-1zM595 657h1v2h-1zM594 659h1v2h-1zM593 661h1v1h-1zM592 662h1v2h-1zM591 664h1v2h-1zM590 666h1v2h-1zM584 667h3v1h-3zM582 668h2v1h-2zM587 668h3v1h-3zM581 669h1v2h-1zM580 671h1v2h-1zM579 673h1v2h-1zM578 675h1v2h-1zM577 677h1v2h-1zM576 679h1v3h-1zM575 682h1v2h-1zM574 684h1v3h-1zM573 687h1v3h-1zM572 690h1v2h-1zM571 692h1v2h-1zM570 694h1v2h-1zM511 696h3v1h-3zM569 696h1v3h-1zM509 697h2v1h-2zM514 697h1v1h-1zM508 698h1v1h-1zM515 698h1v1h-1zM516 699h1v1h-1zM507 699h1v2h-1zM568 699h1v2h-1zM517 700h1v1h-1zM506 701h1v1h-1zM518 701h1v1h-1zM567 701h1v3h-1zM505 702h1v1h-1zM519 702h2v1h-2zM503 703h2v1h-2zM521 703h2v1h-2zM502 704h1v1h-1zM523 704h4v1h-4zM566 704h1v2h-1zM499 705h3v1h-3zM527 705h12v1h-12zM497 706h2v1h-2zM539 706h3v1h-3zM565 706h1v3h-1zM542 707h1v1h-1zM496 707h1v2h-1zM543 708h1v1h-1zM544 709h1v1h-1zM495 709h1v2h-1zM564 709h1v2h-1zM545 710h1v1h-1zM546 711h2v1h-2zM494 711h1v2h-1zM563 711h1v3h-1zM548 712h2v1h-2zM493 713h1v1h-1zM550 713h2v1h-2zM492 714h1v1h-1zM552 714h2v1h-2zM562 714h1v2h-1zM491 715h1v1h-1zM554 715h1v1h-1zM468 716h2v1h-2zM490 716h1v1h-1zM555 716h2v1h-2zM561 716h1v2h-1zM466 717h2v1h-2zM470 717h2v1h-2zM481 717h9v1h-9zM557 717h4v1h-4zM465 718h1v1h-1zM472 718h2v1h-2zM479 718h2v1h-2zM463 719h2v1h-2zM474 719h2v1h-2zM478 719h1v1h-1zM462 720h1v1h-1zM476 720h2v1h-2zM461 721h1v2h-1zM460 723h1v3h-1zM459 726h1v4h-1zM458 730h1v3h-1zM457 733h1v3h-1zM456 736h1v3h-1zM455 739h1v4h-1zM454 743h1v3h-1zM453 746h1v3h-1zM452 749h1v3h-1zM451 752h1v4h-1zM450 756h1v3h-1zM449 759h1v3h-1zM448 762h1v4h-1zM447 766h1v4h-1zM229 768h2v1h-2zM228 769h1v1h-1zM231 769h3v1h-3zM227 770h1v1h-1zM234 770h1v1h-1zM446 770h1v4h-1zM226 771h1v1h-1zM235 771h1v1h-1zM225 772h1v1h-1zM236 772h1v1h-1zM224 773h1v2h-1zM237 773h1v2h-1zM445 774h1v3h-1zM223 775h1v2h-1zM238 775h1v2h-1zM222 777h1v2h-1zM239 777h1v3h-1zM444 777h1v4h-1zM221 779h1v1h-1zM220 780h1v2h-1zM240 780h1v2h-1zM443 781h1v3h-1zM219 782h1v1h-1zM241 782h1v5h-1zM218 783h1v2h-1zM442 784h1v4h-1zM217 785h1v1h-1zM216 786h1v1h-1zM215 787h1v1h-1zM242 787h1v7h-1zM214 788h1v1h-1zM441 788h1v2h-1zM213 789h1v1h-1zM211 790h2v1h-2zM440 790h1v2h-1zM210 791h1v1h-1zM209 792h1v1h-1zM439 792h1v2h-1zM208 793h1v1h-1zM197 794h5v1h-5zM207 794h1v1h-1zM438 794h1v2h-1zM243 794h1v7h-1zM196 795h1v1h-1zM202 795h2v1h-2zM206 795h1v1h-1zM204 796h2v1h-2zM437 796h1v1h-1zM195 796h1v2h-1zM435 797h2v1h-2zM194 798h1v1h-1zM371 798h4v1h-4zM434 798h1v1h-1zM181 799h2v1h-2zM191 799h3v1h-3zM369 799h2v1h-2zM375 799h3v1h-3zM433 799h1v1h-1zM180 800h1v1h-1zM183 800h8v1h-8zM368 800h1v1h-1zM378 800h1v1h-1zM432 800h1v1h-1zM367 801h1v1h-1zM379 801h2v1h-2zM431 801h1v1h-1zM179 801h1v2h-1zM244 801h1v7h-1zM366 802h1v1h-1zM381 802h1v1h-1zM430 802h1v1h-1zM178 803h1v1h-1zM365 803h1v1h-1zM429 803h1v1h-1zM382 803h1v2h-1zM175 804h3v1h-3zM364 804h1v2h-1zM428 804h1v2h-1zM173 805h2v1h-2zM383 805h1v1h-1zM363 806h1v1h-1zM427 806h1v1h-1zM172 806h1v2h-1zM384 806h1v2h-1zM362 807h1v2h-1zM426 807h1v2h-1zM385 808h1v1h-1zM171 808h1v2h-1zM245 808h1v6h-1zM361 809h1v1h-1zM386 809h1v1h-1zM425 809h1v1h-1zM360 810h1v1h-1zM424 810h1v1h-1zM170 810h1v2h-1zM387 810h1v2h-1zM359 811h1v2h-1zM423 811h1v2h-1zM388 812h1v1h-1zM169 812h1v2h-1zM358 813h1v1h-1zM389 813h1v1h-1zM422 813h1v1h-1zM356 814h2v1h-2zM390 814h1v1h-1zM421 814h1v1h-1zM168 814h1v3h-1zM246 814h1v6h-1zM354 815h2v1h-2zM391 815h2v1h-2zM420 815h1v1h-1zM353 816h1v1h-1zM393 816h2v1h-2zM419 816h1v2h-1zM352 817h1v1h-1zM395 817h3v1h-3zM167 817h1v2h-1zM398 818h1v1h-1zM418 818h1v1h-1zM351 818h1v2h-1zM399 819h2v1h-2zM417 819h1v1h-1zM166 819h1v3h-1zM350 820h1v1h-1zM401 820h1v1h-1zM416 820h1v2h-1zM247 820h1v5h-1zM349 821h1v1h-1zM402 821h1v1h-1zM348 822h1v1h-1zM403 822h2v1h-2zM415 822h1v1h-1zM165 822h1v3h-1zM405 823h1v1h-1zM347 823h1v2h-1zM414 823h1v2h-1zM406 824h2v1h-2zM346 825h1v1h-1zM408 825h6v1h-6zM164 825h1v2h-1zM248 825h1v6h-1zM345 826h1v1h-1zM344 827h1v1h-1zM163 827h1v2h-1zM343 828h1v2h-1zM162 829h1v2h-1zM342 830h1v1h-1zM341 831h1v2h-1zM161 831h1v3h-1zM249 831h1v5h-1zM340 833h1v3h-1zM160 834h1v2h-1zM159 836h1v3h-1zM339 836h1v4h-1zM250 836h1v5h-1zM158 839h1v2h-1zM338 840h1v3h-1zM157 841h1v3h-1zM251 841h1v5h-1zM337 843h1v3h-1zM156 844h1v3h-1zM336 846h1v4h-1zM252 846h1v5h-1zM155 847h1v3h-1zM154 850h1v3h-1zM335 850h1v4h-1zM253 851h1v5h-1zM153 853h1v3h-1zM334 854h1v4h-1zM152 856h1v3h-1zM254 856h1v4h-1zM333 858h1v3h-1zM151 859h1v2h-1zM255 860h1v5h-1zM150 861h1v3h-1zM332 861h1v3h-1zM149 864h1v3h-1zM331 864h1v4h-1zM256 865h1v4h-1zM148 867h1v2h-1zM330 868h1v3h-1zM147 869h1v3h-1zM257 869h1v4h-1zM329 871h1v2h-1zM146 872h1v2h-1zM328 873h1v2h-1zM258 873h1v3h-1zM272 874h2v1h-2zM145 874h1v3h-1zM270 875h2v1h-2zM274 875h2v1h-2zM327 875h1v2h-1zM269 876h1v1h-1zM276 876h2v1h-2zM259 876h1v4h-1zM268 877h1v1h-1zM278 877h1v1h-1zM326 877h1v2h-1zM144 877h1v3h-1zM267 878h1v1h-1zM313 878h5v1h-5zM279 878h1v2h-1zM266 879h1v1h-1zM311 879h2v1h-2zM318 879h1v1h-1zM325 879h1v1h-1zM265 880h1v1h-1zM280 880h1v1h-1zM310 880h1v1h-1zM319 880h1v1h-1zM323 880h2v1h-2zM260 880h1v3h-1zM143 880h1v4h-1zM264 881h1v1h-1zM281 881h1v1h-1zM320 881h1v1h-1zM322 881h1v1h-1zM309 881h1v2h-1zM263 882h1v1h-1zM282 882h1v1h-1zM321 882h1v1h-1zM262 883h1v1h-1zM261 883h1v2h-1zM283 883h1v2h-1zM308 883h1v2h-1zM142 884h1v3h-1zM284 885h1v1h-1zM307 885h1v2h-1zM285 886h1v1h-1zM286 887h1v2h-1zM306 887h1v2h-1zM141 887h1v3h-1zM287 889h1v2h-1zM305 889h1v2h-1zM140 890h1v2h-1zM288 891h1v2h-1zM304 891h1v2h-1zM139 892h1v2h-1zM289 893h1v1h-1zM303 893h1v2h-1zM290 894h1v1h-1zM138 894h1v2h-1zM291 895h1v1h-1zM302 895h1v2h-1zM95 896h4v1h-4zM136 896h2v1h-2zM292 896h1v1h-1zM91 897h4v1h-4zM99 897h4v1h-4zM134 897h2v1h-2zM293 897h2v1h-2zM299 897h3v1h-3zM88 898h3v1h-3zM103 898h12v1h-12zM132 898h2v1h-2zM295 898h4v1h-4zM86 899h2v1h-2zM115 899h3v1h-3zM130 899h2v1h-2zM36 900h2v1h-2zM85 900h1v1h-1zM118 900h2v1h-2zM127 900h3v1h-3zM34 901h2v1h-2zM38 901h1v1h-1zM83 901h2v1h-2zM120 901h7v1h-7zM33 902h1v1h-1zM39 902h1v1h-1zM82 902h1v1h-1zM31 903h2v1h-2zM40 903h1v1h-1zM81 903h1v1h-1zM23 904h4v1h-4zM30 904h1v1h-1zM41 904h1v1h-1zM80 904h1v1h-1zM21 905h2v1h-2zM27 905h3v1h-3zM79 905h1v1h-1zM42 905h1v2h-1zM78 906h1v1h-1zM20 906h1v2h-1zM77 907h1v1h-1zM43 907h1v2h-1zM19 908h1v1h-1zM75 908h2v1h-2zM74 909h1v1h-1zM18 909h1v2h-1zM44 909h1v2h-1zM73 910h1v1h-1zM17 911h1v1h-1zM45 911h1v1h-1zM72 911h1v1h-1zM16 912h1v1h-1zM71 912h1v1h-1zM46 912h1v2h-1zM15 913h1v1h-1zM70 913h1v1h-1zM14 914h1v1h-1zM69 914h1v1h-1zM47 914h1v2h-1zM13 915h1v1h-1zM68 915h1v1h-1zM11 916h2v1h-2zM67 916h1v1h-1zM48 916h1v2h-1zM10 917h1v1h-1zM66 917h1v1h-1zM49 918h1v1h-1zM64 918h2v1h-2zM9 918h1v2h-1zM50 919h1v1h-1zM62 919h2v1h-2zM59 920h3v1h-3zM8 920h1v2h-1zM51 920h1v2h-1zM56 921h3v1h-3zM52 922h1v1h-1zM54 922h2v1h-2zM7 922h1v2h-1zM53 923h1v1h-1zM6 924h1v2h-1zM5 926h1v2h-1zM4 928h1v3h-1zM3 931h1v3h-1zM2 934h1v3h-1zM1 937h1v2h-1z"/>
</g>
<g shape-rendering="crispEdges" stroke="#FF0000" stroke-width="1" fill="none">
<path d="M0 198.5H1138M0 367.5H1138M0 784.5H1138M0 846.5H1138M0 883.5H1138"/>
<path d="M470.8 940L1138 863.2"/>
</g>
<g stroke="#000" stroke-width="2" fill="none">
<path d="M777.9 27.7L827.8 189.7M863.8 104.1L846.2 191.5M834 204.3L886 357.5"/>
</g>
<text x="76" y="88.3" font-size="32" fill="#000" stroke="none">黄金小时周期解析图</text>
<text x="884" y="232.7" font-size="36" fill="#000" stroke="none">5350</text>
</svg></body></html>
